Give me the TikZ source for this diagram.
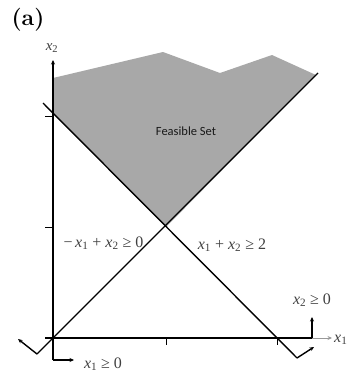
\documentclass[tikz,border=0pt]{standalone}
\usepackage{fontspec}
\usetikzlibrary{arrows.meta}
\newfontfamily\tmsfont{Liberation Serif}
\newfontfamily\carlfont{Carlito}
\newcommand\xvar[1]{\textit{x}\textsubscript{#1}}
\begin{document}
\begin{tikzpicture}[x=1pt,y=-1pt,
  axisline/.style={line width=1.3pt,black},
  conline/.style={line width=1.4pt,black},
  tip/.style={-{Stealth[length=4.5pt,width=4pt]}},
  mathlbl/.style={font=\tmsfont\fontsize{16}{18}\selectfont,text=black!75,inner sep=0pt},
  ticklen/.style={line width=0.8pt,black}]
\useasboundingbox (0,0) rectangle (346,375);
% key points
\coordinate (O) at (53,338);
\coordinate (P) at (166,227);
\coordinate (Ytop) at (53,60);
\coordinate (Ybot) at (53,360);
\coordinate (Xleft) at (45,338);
\coordinate (Xmid) at (312,338);
\coordinate (Xtip) at (332,338);
\coordinate (AUL) at (43,103);
\coordinate (ALR) at (297,358);
\coordinate (BLL) at (37,354);
\coordinate (BUR) at (318,73);
% feasible set
\fill[black!34] (53,78) -- (163,52) -- (220,73) -- (272,55) -- (316,75) -- (P) -- (53,113) -- cycle;
% axes
\draw[axisline,tip] (Ybot) -- (Ytop);
\draw[axisline] (Xleft) -- (Xmid);
\draw[line width=0.8pt,black!40,tip] (Xmid) -- (Xtip);
% ticks
\draw[ticklen] (166,338) -- (166,345);
\draw[ticklen] (277,338) -- (277,345);
\draw[ticklen] (45,227) -- (53,227);
\draw[ticklen] (45,116) -- (53,116);
% constraint lines
\draw[conline] (BLL) -- (BUR);
\draw[conline] (AUL) -- (ALR);
% normal arrows
\coordinate (BLT) at (18,339);
\coordinate (ART) at (314,347);
\coordinate (X2T) at (312,317);
\coordinate (X1T) at (74,360);
\draw[conline,tip] (BLL) -- (BLT);
\draw[conline,tip] (ALR) -- (ART);
\draw[conline,tip] (Xmid) -- (X2T);
\draw[conline,tip] (Ybot) -- (X1T);
% labels
\node[font=\fontsize{23}{25}\selectfont\bfseries,inner sep=0pt] (lab) at (28,20) {(a)};
\node[mathlbl,font=\tmsfont\fontsize{15}{17}\selectfont] (x2lbl) at (52,48) {\xvar{2}};
\node[mathlbl,anchor=west] (x1lbl) at (334,340) {\xvar{1}};
\node[font=\carlfont\fontsize{12.5}{14}\selectfont,text=black!90,inner sep=0pt] (fs) at (186,131) {Feasible Set};
\node[mathlbl] (c1) at (103.5,243) {−\,\xvar{1} + \xvar{2} ≥ 0};
\node[mathlbl] (c2) at (232,245) {\xvar{1} + \xvar{2} ≥ 2};
\node[mathlbl] (c3) at (312,300) {\xvar{2} ≥ 0};
\node[mathlbl] (c4) at (103,364) {\xvar{1} ≥ 0};
\end{tikzpicture}
\end{document}
